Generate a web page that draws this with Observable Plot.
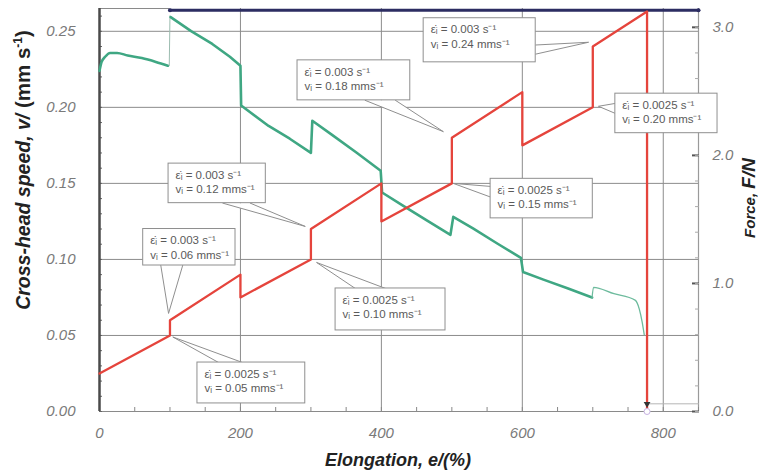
<!DOCTYPE html>
<html>
<head>
<meta charset="utf-8">
<script src="https://cdn.jsdelivr.net/npm/d3@7"></script>
<script src="https://cdn.jsdelivr.net/npm/@observablehq/plot@0.6"></script>
<style>
  body { margin: 0; background: #fff; }
  #chart { width: 758px; height: 473px; }
  #chart svg { display: block; }
  #chart svg g[aria-label*="axis"] text { font-style: italic; }
</style>
</head>
<body>
<div id="chart"></div>
<script>
// Cross-head speed programme (mm/s) against elongation (%)
const speedElong = [0, 100, 100, 200, 200, 300, 300, 400, 400, 500, 500, 600, 600, 700, 700, 777, 777];
const speedValues = [0.025, 0.05, 0.06, 0.09, 0.075, 0.10, 0.12, 0.15, 0.125, 0.15, 0.18, 0.21, 0.175, 0.20, 0.24, 0.263, 0];

// Measured force (N): first stage, main record, fracture tail
const forceElong1 = [0, 3, 8, 15, 25, 40, 60, 80, 97];
const forceN1 = [2.66, 2.73, 2.77, 2.80, 2.80, 2.78, 2.76, 2.73, 2.70];
const forceJumpElong = [99, 100];
const forceJumpN = [2.70, 3.09];
const forceElong2 = [101, 130, 160, 185, 200, 201, 240, 270, 300, 302, 330, 365, 399,
                     401, 430, 465, 498, 502, 530, 565, 598, 601, 630, 665, 699];
const forceN2 = [3.08, 2.97, 2.87, 2.77, 2.70, 2.39, 2.23, 2.13, 2.02, 2.27, 2.16, 2.02, 1.88,
                 1.71, 1.61, 1.49, 1.38, 1.52, 1.43, 1.31, 1.20, 1.09, 1.03, 0.96, 0.89];
const tailElong = [699, 701, 730, 760, 766, 770, 773];
const tailN = [0.89, 0.97, 0.92, 0.87, 0.80, 0.70, 0.60];
const afterBreakElong = [777, 850];
const afterBreakN = [0.06, 0.06];

// Upper trace along the top of the frame
const topTraceElong = [100, 850];
const topTraceN = [3.133, 3.133];

// Axis ticks
const xTicks = [0, 200, 400, 600, 800];
const speedTicks = [0.00, 0.05, 0.10, 0.15, 0.20, 0.25];
const forceTicks = [0, 1, 2, 3];

// Step annotations: strain rate (1/s) and cross-head speed (mm/s)
const calloutRate = ["0.003", "0.0025", "0.003", "0.0025", "0.003", "0.0025", "0.003", "0.0025"];
const calloutSpeed = ["0.06", "0.05", "0.12", "0.10", "0.18", "0.15", "0.24", "0.20"];
// box extents [e1, e2, v1, v2], pointer tip and pointer base points
const calloutBox = [
  [62, 193, 0.096, 0.120], [139, 292, 0.0053, 0.0322], [98, 236, 0.137, 0.163], [335, 491, 0.0533, 0.0809],
  [281, 441, 0.2046, 0.2309], [555, 700, 0.127, 0.153], [460, 619, 0.2296, 0.2586], [732, 877, 0.183, 0.209]
];
const calloutTip = [[98, 0.0645], [104, 0.049], [292, 0.1217], [308, 0.098], [488, 0.184], [502, 0.150], [694, 0.2428], [708, 0.2007]];
const calloutBase = [
  [[87, 0.096], [118, 0.096]], [[169, 0.0322], [203, 0.0322]], [[175, 0.137], [214, 0.137]], [[363, 0.0809], [406, 0.0809]],
  [[377, 0.2046], [420, 0.2046]], [[555, 0.148], [555, 0.141]], [[619, 0.2410], [619, 0.2350]], [[732, 0.2026], [732, 0.196]]
];

const vMax = 0.265;
const fMax = 3.147;
const k = vMax / fMax; // force → speed-axis units

const zip = (xs, ys) => xs.map((x, i) => ({e: x, v: ys[i]}));
const speed = zip(speedElong, speedValues);
const force1 = zip(forceElong1, forceN1);
const forceJump = zip(forceJumpElong, forceJumpN);
const force2 = zip(forceElong2, forceN2);
const tail = zip(tailElong, tailN);
const afterBreak = zip(afterBreakElong, afterBreakN);
const topTrace = zip(topTraceElong, topTraceN);

const boxes = calloutBox.map((b, i) => ({
  e1: b[0], e2: b[1], v1: b[2], v2: b[3],
  label: `ε̇ᵢ = ${calloutRate[i]} s⁻¹\nvᵢ = ${calloutSpeed[i]} mms⁻¹`
}));
const pointers = calloutBase.flatMap((base, i) => [
  {id: i, e: base[0][0], v: base[0][1]},
  {id: i, e: calloutTip[i][0], v: calloutTip[i][1]},
  {id: i, e: base[1][0], v: base[1][1]}
]);

const font = "'Liberation Sans', Arial, sans-serif";
const grid = "#8c8c8c";

const chart = Plot.plot({
  width: 758,
  height: 473,
  marginLeft: 99,
  marginRight: 60,
  marginTop: 8,
  marginBottom: 62,
  x: {domain: [0, 850]},
  y: {domain: [0, vMax]},
  style: {fontFamily: font, background: "#fff"},
  marks: [
    // grid
    Plot.ruleX(xTicks.filter(d => d > 0), {stroke: grid, strokeWidth: 1}),
    Plot.ruleY(speedTicks.filter(d => d > 0), {stroke: grid, strokeWidth: 1}),
    // frame
    Plot.ruleY([vMax], {x1: 0, x2: 100, stroke: "#8a8a8a", strokeWidth: 1.2}),
    Plot.ruleX([850], {stroke: "#9a9a9a", strokeWidth: 1.2}),
    Plot.ruleY([0], {stroke: "#8a8a8a", strokeWidth: 1.2}),
    // axes: left (speed)
    Plot.axisY({ticks: speedTicks, tickFormat: d => d.toFixed(2), tickSize: 0, tickPadding: 24,
      fontSize: 15, fontStyle: "italic", fill: "#7a7a7a", label: null}),
    Plot.axisY({ticks: d3.range(0, 0.2651, 0.01), tickFormat: () => "", tickSize: -3, stroke: "#666", label: null}),
    // bottom (elongation)
    Plot.axisX({ticks: xTicks, tickFormat: d => String(d), tickSize: 0, tickPadding: 16,
      fontSize: 15, fontStyle: "italic", fill: "#7a7a7a", label: null}),
    Plot.axisX({ticks: d3.range(0, 851, 50), tickFormat: () => "", tickSize: -4, stroke: "#888", label: null}),
    // right (force)
    Plot.axisY({anchor: "right", ticks: forceTicks.map(f => f * k), tickFormat: d => (d / k).toFixed(1),
      tickSize: -7, tickPadding: 21, strokeWidth: 2, stroke: "#555",
      fontSize: 15, fontStyle: "italic", fill: "#7a7a7a", label: null}),
    Plot.axisY({anchor: "right", ticks: d3.range(0, 3.15, 0.2).map(f => f * k), tickFormat: () => "",
      tickSize: -4, stroke: "#aaa", label: null}),
    Plot.ruleX([0], {stroke: "#4a4a4a", strokeWidth: 2.5}),

    // force record
    Plot.line(afterBreak, {x: "e", y: d => d.v * k, stroke: "#b5b5b5", strokeWidth: 1}),
    Plot.line(force1, {x: "e", y: d => d.v * k, stroke: "#3fa783", strokeWidth: 2.6, curve: "monotone-x"}),
    Plot.line(forceJump, {x: "e", y: d => d.v * k, stroke: "#9cbcb0", strokeWidth: 1}),
    Plot.line(force2, {x: "e", y: d => d.v * k, stroke: "#3fa783", strokeWidth: 2.6}),
    Plot.line(tail, {x: "e", y: d => d.v * k, stroke: "#6dbb9d", strokeWidth: 1.3, curve: "monotone-x"}),
    Plot.line(topTrace, {x: "e", y: d => d.v * k, stroke: "#2c2d62", strokeWidth: 3}),
    Plot.dot(topTrace, {x: "e", y: d => d.v * k, r: 2, fill: "#2c2d62"}),

    // callout pointers
    Plot.line(pointers, {x: "e", y: "v", z: "id", stroke: "#8f8f8f", strokeWidth: 1, fill: "#fff"}),

    // cross-head speed programme
    Plot.line(speed, {x: "e", y: "v", stroke: "#e5443c", strokeWidth: 2.3}),
    Plot.dot([speed[speed.length - 1]], {x: "e", y: "v", r: 3, stroke: "#c7b2e2", fill: "#fff", strokeWidth: 1}),
    Plot.dot([speed[speed.length - 1]], {x: "e", y: () => 0.005, r: 2.5, symbol: "triangle", rotate: 180, fill: "#333"}),

    // callout boxes
    Plot.rect(boxes, {x1: "e1", x2: "e2", y1: "v1", y2: "v2", fill: "#fff", stroke: "#8f8f8f", strokeWidth: 1}),
    Plot.text(boxes, {x: "e1", y: "v2", text: "label", textAnchor: "start", lineAnchor: "top",
      dx: 7, dy: 5, fontSize: 11.5, lineHeight: 1.25, fill: "#5a5a5a"})
  ]
});

const svg = d3.select(chart);

// axis titles
const ytitle = svg.append("text")
  .attr("transform", "translate(30,170) rotate(-90)")
  .attr("text-anchor", "middle")
  .attr("font-family", font).attr("font-size", 19.5).attr("font-weight", "bold").attr("fill", "#222");
ytitle.append("tspan").attr("font-style", "italic").text("Cross-head speed, v/");
ytitle.append("tspan").attr("font-size", 20.5).text(" (mm s");
ytitle.append("tspan").attr("font-size", 12).attr("dy", -8).text("-1");
ytitle.append("tspan").attr("font-size", 20.5).attr("dy", 8).text(")");

const rtitle = svg.append("text")
  .attr("transform", "translate(755,198) rotate(-90)")
  .attr("text-anchor", "middle")
  .attr("font-family", font).attr("font-weight", "bold").attr("fill", "#222");
rtitle.append("tspan").attr("font-style", "italic").attr("font-size", 15).text("Force, ");
rtitle.append("tspan").attr("font-style", "italic").attr("font-size", 19).text("F/N");

svg.append("text")
  .attr("x", 398).attr("y", 466)
  .attr("text-anchor", "middle")
  .attr("font-family", font).attr("font-size", 18).attr("font-weight", "bold").attr("font-style", "italic")
  .attr("fill", "#222")
  .text("Elongation, e/(%)");

document.getElementById("chart").append(chart);
</script>
</body>
</html>
